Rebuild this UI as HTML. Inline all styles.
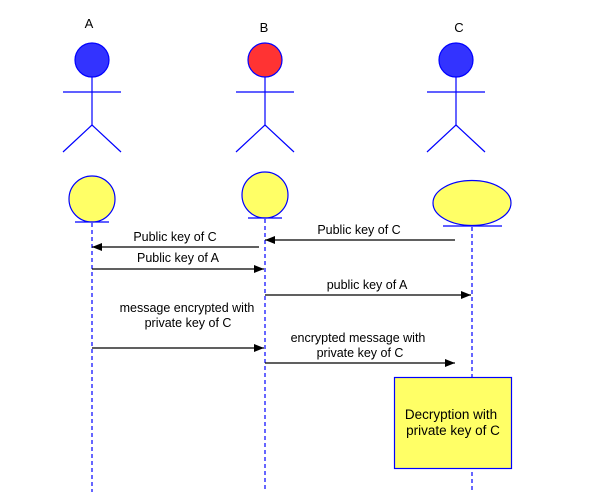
<!DOCTYPE html>
<html><head><style>body{margin:0;background:#fff}svg{display:block}</style></head><body>
<svg width="592" height="492" viewBox="0 0 592 492" xmlns="http://www.w3.org/2000/svg" font-family="Liberation Sans, sans-serif" font-size="12.5">
<defs><marker id="ar" markerWidth="10" markerHeight="8" refX="10" refY="4" orient="auto" markerUnits="userSpaceOnUse"><path d="M0,0 L10,4 L0,8 z" fill="#000"/></marker></defs>
<g fill="#000" font-size="13" text-anchor="middle">
<text x="89" y="28">A</text><text x="264" y="32">B</text><text x="459" y="32">C</text></g>
<g stroke="#0000ff" stroke-width="1.2" fill="none">
<circle cx="92" cy="60" r="17" fill="#3333ff"/><line x1="92" y1="77" x2="92" y2="125"/><line x1="63" y1="92" x2="121" y2="92"/><line x1="92" y1="125" x2="63" y2="152"/><line x1="92" y1="125" x2="121" y2="152"/>
<circle cx="265" cy="60" r="17" fill="#ff3333"/><line x1="265" y1="77" x2="265" y2="125"/><line x1="236" y1="92" x2="294" y2="92"/><line x1="265" y1="125" x2="236" y2="152"/><line x1="265" y1="125" x2="294" y2="152"/>
<circle cx="456" cy="60" r="17" fill="#3333ff"/><line x1="456" y1="77" x2="456" y2="125"/><line x1="427" y1="92" x2="485" y2="92"/><line x1="456" y1="125" x2="427" y2="152"/><line x1="456" y1="125" x2="485" y2="152"/>
<circle cx="92" cy="199" r="23" fill="#ffff66"/><line x1="75" y1="222" x2="109" y2="222"/>
<circle cx="265" cy="195" r="23" fill="#ffff66"/><line x1="248" y1="218" x2="282" y2="218"/>
<ellipse cx="472" cy="203" rx="39" ry="22.5" fill="#ffff66"/><line x1="443" y1="226" x2="502" y2="226"/>
<g stroke-dasharray="4,3"><line x1="92" y1="223" x2="92" y2="492"/><line x1="265" y1="219" x2="265" y2="492"/><line x1="472" y1="227" x2="472" y2="492"/></g>
<rect x="394.5" y="377.5" width="117" height="91" fill="#ffff66"/>
</g>
<g stroke="#000" stroke-width="1.2" marker-end="url(#ar)">
<line x1="259" y1="247" x2="92" y2="247"/>
<line x1="92" y1="269" x2="264" y2="269"/>
<line x1="455" y1="240" x2="265" y2="240"/>
<line x1="265" y1="295" x2="471" y2="295"/>
<line x1="92" y1="348" x2="264" y2="348"/>
<line x1="265" y1="363" x2="455" y2="363"/>
</g>
<g fill="#000" text-anchor="middle">
<text x="175" y="241">Public key of C</text>
<text x="178" y="262">Public key of A</text>
<text x="359" y="234">Public key of C</text>
<text x="367" y="289">public key of A</text>
<text x="187" y="312">message encrypted with</text>
<text x="188" y="327">private key of C</text>
<text x="358" y="342">encrypted message with</text>
<text x="360" y="357">private key of C</text>
<text x="451" y="419" font-size="13.5">Decryption with</text>
<text x="453" y="435" font-size="13.5">private key of C</text>
</g>
</svg>
</body></html>
